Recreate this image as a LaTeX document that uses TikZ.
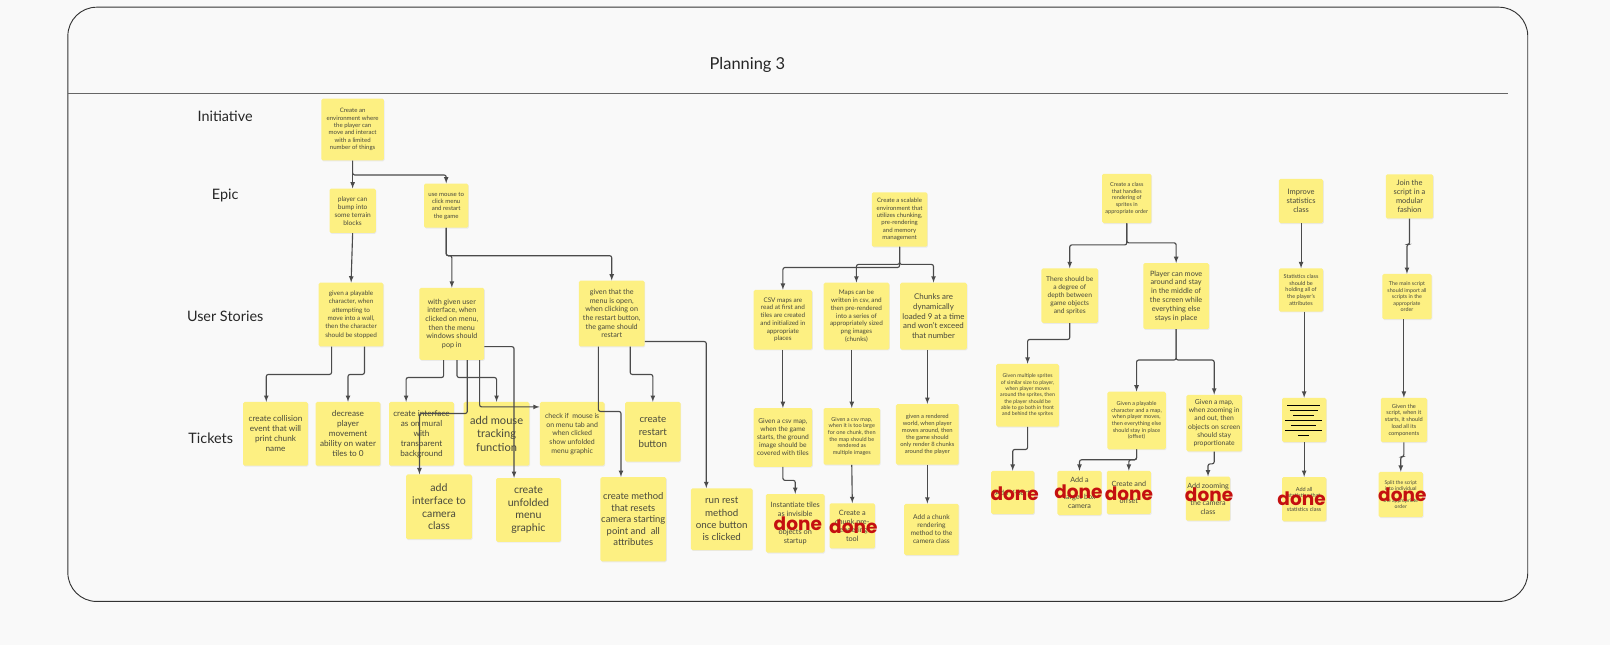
\documentclass[tikz,border=0pt]{standalone}
\usepackage{fontspec}
\setmainfont{Lato}
\newfontfamily\donefont{Poppins}
\usetikzlibrary{shadows}
\definecolor{paper}{RGB}{249,249,249}
\definecolor{sticky}{RGB}{253,240,130}
\definecolor{ink}{RGB}{72,72,60}
\definecolor{donered}{RGB}{196,16,16}
\definecolor{wire}{RGB}{75,75,75}
\newcommand{\fsz}[2]{\fontsize{#1}{#2}\selectfont}
\tikzset{
  note/.style 2 args={fill=sticky, rounded corners=1.5pt, align=center, text=ink, inner sep=0pt,
    minimum width=#1pt, minimum height=#2pt,
    drop shadow={opacity=0.13, shadow xshift=0.6pt, shadow yshift=-0.9pt}},
  done/.style={text=donered, font=\donefont\bfseries\fsz{18}{18}, inner sep=0pt},
  link/.style={->, >=latex, draw=wire, line width=1.1pt, rounded corners=2pt},
  row/.style={font=\fsz{14}{16}, text=black!85},
  board/.style={draw=black!80, line width=0.9pt, rounded corners=28pt},
  divider/.style={draw=black!60, line width=0.8pt},
}
\begin{document}
\begin{tikzpicture}[x=1pt, y=-1pt]
\fill[paper] (0,0) rectangle (1566,627);
\useasboundingbox (0,0) rectangle (1566,627);
\draw[board] (66,7) rectangle (1486,585);
\draw[divider] (66,91) -- (1467,91);

% headings
\node[font=\fsz{16}{18}, text=black!85] (title) at (727,63) {Planning 3};
\node[row] (rInit) at (219,113) {Initiative};
\node[row] (rEpic) at (219,190) {Epic};
\node[row] (rStory) at (219,308) {User Stories};
\node[row] (rTick) at (205,426) {Tickets};

% menu and movement
\node[note={61}{60}, font=\fsz{5.9}{7.1}] (i1) at (343,126) {Create an\\environment where\\the player can\\move and interact\\with a limited\\number of things};
\node[note={45}{43}, font=\fsz{6.4}{7.8}] (e1) at (343,205) {player can\\bump into\\some terrain\\blocks};
\node[note={43}{43}, font=\fsz{5.9}{7.1}] (e2) at (434,200) {use mouse to\\click menu\\and restart\\the game};
\node[note={63}{62}, font=\fsz{6.2}{8.1}] (s1) at (341.5,306) {given a playable\\character, when\\attempting to\\move into a wall,\\then the character\\should be stopped};
\node[note={63}{70}, font=\fsz{7}{8.4}] (s2) at (439.5,315) {with given user\\interface, when\\clicked on menu,\\then the menu\\windows should\\pop in};
\node[note={64}{64}, font=\fsz{7}{8.4}] (s3) at (595,305) {given that the\\menu is open,\\when clicking on\\the restart button,\\the game should\\restart};
\node[note={63}{62}, font=\fsz{8}{9.7}] (t1) at (268,422) {create collision\\event that will\\print chunk\\name};
\node[note={63}{62}, font=\fsz{8}{9.7}] (t2) at (338.5,422) {decrease\\player\\movement\\ability on water\\tiles to 0};
\node[note={63}{62}, font=\fsz{8}{9.7}] (t3) at (410,422) {create interface\\as on mural\\with\\transparent\\background};
\node[note={64}{62}, font=\fsz{10.8}{13}] (t4) at (483,422) {add mouse\\tracking\\function};
\node[note={63}{62}, font=\fsz{6.8}{8.4}] (t5) at (556.5,422) {check if\ \ mouse is\\on menu tab and\\when clicked\\show unfolded\\menu graphic};
\node[note={54}{58}, font=\fsz{9.5}{12}] (t6) at (635,420) {create\\restart\\button};
\node[note={64}{63}, font=\fsz{10.3}{12.3}] (t7) at (427,493) {add\\interface to\\camera\\class};
\node[note={63}{62}, font=\fsz{10.3}{12.3}] (t8) at (514,496) {create\\unfolded\\menu\\graphic};
\node[note={64}{82}, font=\fsz{9.2}{11.3}] (t9) at (616,505) {create method\\that resets\\camera starting\\point and\ \ all\\attributes};
\node[note={60}{60}, font=\fsz{9.5}{12}] (t10) at (702,505) {run rest\\method\\once button\\is clicked};

% chunks
\node[note={54}{53}, font=\fsz{5.9}{7.1}] (e3) at (875,213.5) {Create a scalable\\environment that\\utilizes chunking,\\pre-rendering\\and memory\\management};
\node[note={57}{58}, font=\fsz{6.2}{7.5}] (s4) at (761.5,311) {CSV maps are\\read at first and\\tiles are created\\and initialized in\\appropriate\\places};
\node[note={64}{65}, font=\fsz{6.2}{7.6}] (s5) at (833,307.5) {Maps can be\\written in csv, and\\then pre-rendered\\into a series of\\appropriately sized\\png images\\(chunks)};
\node[note={65}{65}, font=\fsz{7.7}{9.3}] (s6) at (908,307.5) {Chunks are\\dynamically\\loaded 9 at a time\\and won't exceed\\that number};
\node[note={57}{57}, font=\fsz{6.5}{7.8}] (t11) at (761.5,425.5) {Given a csv map,\\when the game\\starts, the ground\\image should be\\covered with tiles};
\node[note={55}{55}, font=\fsz{5.4}{6.5}] (t12) at (828.5,424.5) {Given a csv map,\\when it is too large\\for one chunk, then\\the map should be\\rendered as\\multiple images};
\node[note={61}{59}, font=\fsz{5.7}{6.8}] (t13) at (902,422.5) {given a rendered\\world, when player\\moves around, then\\the game should\\only render 8 chunks\\around the player};
\node[note={57}{57}, font=\fsz{7.1}{8.6}] (t14) at (773.5,509) {Instantiate tiles\\as invisible\\[8.6pt]objects on\\startup};
\node[note={44}{44}, font=\fsz{7.1}{8.6}] (t15) at (829,511.5) {Create a\\chunk pre-\\rendering\\tool};
\node[note={53}{50}, font=\fsz{6.5}{7.8}] (t16) at (906,515) {Add a chunk\\rendering\\method to the\\camera class};

% sprites and camera
\node[note={48}{48}, font=\fsz{5.4}{6.5}] (e4) at (1096,193) {Create a class\\that handles\\rendering of\\sprites in\\appropriate order};
\node[note={55}{53}, font=\fsz{6.5}{7.8}] (s7) at (1040.5,287.5) {There should be\\a degree of\\depth between\\game objects\\and sprites};
\node[note={64}{64}, font=\fsz{7.1}{8.6}] (s8) at (1144,288) {Player can move\\around and stay\\in the middle of\\the screen while\\everything else\\stays in place};
\node[note={61}{61}, font=\fsz{5.1}{6.2}] (t17) at (999.5,384.5) {Given multiple sprites\\of similar size to player,\\when player moves\\around the sprites, then\\the player should be\\able to go both in front\\and behind the sprites};
\node[note={57}{56}, font=\fsz{5.4}{6.5}] (t18) at (1105.5,409) {Given a playable\\character and a map,\\when player moves,\\then everything else\\should stay in place\\(offset)};
\node[note={54}{55}, font=\fsz{6.6}{8}] (t19) at (1181,411.5) {Given a map,\\when zooming in\\and out, then\\objects on screen\\should stay\\proportionate};
\node[note={42}{42}, font=\fsz{7}{8.4}] (t20) at (985,479) {Add Y-Sort};
\node[note={43}{43}, font=\fsz{7}{8.4}] (t21) at (1050,479.5) {Add a\\[8.4pt]target box\\camera};
\node[note={43}{42}, font=\fsz{7}{8.4}] (t22) at (1098,479) {Create and\\[8.4pt]offset};
\node[note={43}{43}, font=\fsz{7}{8.4}] (t23) at (1175,485) {Add zooming\\[8.4pt]the camera\\class};

% statistics
\node[note={43}{43}, font=\fsz{7.3}{8.8}] (e5) at (1265.5,195.5) {Improve\\statistics\\class};
\node[note={43}{42}, font=\fsz{5.4}{6.5}] (s9) at (1265.5,282) {Statistics class\\should be\\holding all of\\the player's\\attributes};
\node[note={43}{43}] (t24) at (1268.5,408.5) {};
\node[note={43}{43}, font=\fsz{5.4}{6.5}] (t25) at (1268.5,485.5) {Add all\\statistics that\\[6.5pt]statistics class};

% scripts
\node[note={46}{43}, font=\fsz{7.3}{8.8}] (e6) at (1371,191) {Join the\\script in a\\modular\\fashion};
\node[note={48}{44}, font=\fsz{5.2}{6.3}] (s10) at (1368.5,288.5) {The main script\\should import all\\scripts in the\\appropriate\\order};
\node[note={45}{43}, font=\fsz{5.5}{6.6}] (t26) at (1365.5,408.5) {Given the\\script, when it\\starts, it should\\load all its\\components};
\node[note={43}{44}, font=\fsz{5}{6}] (t27) at (1362.5,481) {Split the script\\into individual\\[6pt]the appropriate\\order};

% text lines on the statistics ticket
\foreach \w/\k in {32/0, 27/1, 20/2, 36/3, 25/4, 36/5, 11/6}
  \draw[black, line width=0.8pt] ({1268-\w/2},{394+4.9*\k}) -- ++(\w,0);

% links
\draw[link] (i1.south) -- (e1.north);
\draw[link] (i1.south) -- ++(0,14) -| (e2.north);
\draw[link] (e1.south) -- (s1.north);
\draw[link] (e2.south) -- ++(0,27) -| (s2.north);
\draw[link] (e2.south) -- ++(0,27) -| (s3.north);
\draw[link] ([xshift=-19pt]s1.south) -- ++(0,27) -| ([xshift=-9pt]t1.north);
\draw[link] ([xshift=13pt]s1.south) -- ++(0,27) -| (t2.north);
\draw[link] ([xshift=-8pt]s2.south) -- ++(0,17) -| ([xshift=-15pt]t3.north);
\draw[link] ([xshift=5pt]s2.south) -- ++(0,17) -| (t4.north);
\draw[link] ([xshift=15pt]s2.south) -- ++(0,52) -| ([xshift=-19pt]t7.north);
\draw[link] ([xshift=27pt]s2.south) |- ([yshift=-5pt]t5.north west);
\draw[link] ([yshift=13pt]s2.south east) -| ([xshift=-14pt]t8.north);
\draw[link] ([xshift=-13pt]s3.south) -- ++(0,63) -| ([xshift=-12pt]t9.north);
\draw[link] ([xshift=18pt]s3.south) -- ++(0,27) -| (t6.north);
\draw[link] ([yshift=5pt]s3.south east) -| ([xshift=-15pt]t10.north);
\draw[link] (e3.south) -- ++(0,20) -| (s4.north);
\draw[link] (e3.south) -- ++(0,17) -| (s5.north);
\draw[link] (e3.south) -- ++(0,17) -| (s6.north);
\draw[link] (s4.south) -- (t11.north);
\draw[link] (t12.north |- s5.south) -- (t12.north);
\draw[link] (t13.north |- s6.south) -- (t13.north);
\draw[link] (t11.south) -- ++(0,13) -| (t14.north);
\draw[link] (t12.south) -- (t15.north);
\draw[link] (t13.south) -- (t13.south |- t16.north);
\draw[link] (e4.south) -- ++(0,21) -| (s7.north);
\draw[link] (e4.south) -- ++(0,19) -| (s8.north);
\draw[link] (s7.south) -- ++(0,16) -| (t17.north);
\draw[link] (t17.south) -- ++(0,22) -| (t20.north);
\draw[link] (s8.south) -- ++(0,30) -| (t18.north);
\draw[link] (s8.south) -- ++(0,30) -| (t19.north);
\draw[link] (t18.south) -- ++(0,10) -| (t21.north);
\draw[link] (t18.south) -- ++(0,10) -| (t22.north);
\draw[link] (t19.south) -- ++(0,12) -| (t23.north);
\draw[link] (e5.south) -- (s9.north);
\draw[link] (t24.north |- s9.south) -- (t24.north);
\draw[link] (t24.south) -- (t25.north);
\draw[link] (e6.south) -- ++(0,25) -| (s10.north);
\draw[link] (t26.north |- s10.south) -- (t26.north);
\draw[link] (t26.south) -- ++(0,14) -| (t27.north);

% done stamps
\node[done] (d14) at (776,509) {done};
\node[done] (d15) at (830,512) {done};
\node[done] (d20) at (987,480) {done};
\node[done] (d21) at (1049,478) {done};
\node[done] (d22) at (1098,480) {done};
\node[done] (d23) at (1176,481) {done};
\node[done] (d25) at (1266,485) {done};
\node[done] (d27) at (1364,481) {done};
\end{tikzpicture}
\end{document}
